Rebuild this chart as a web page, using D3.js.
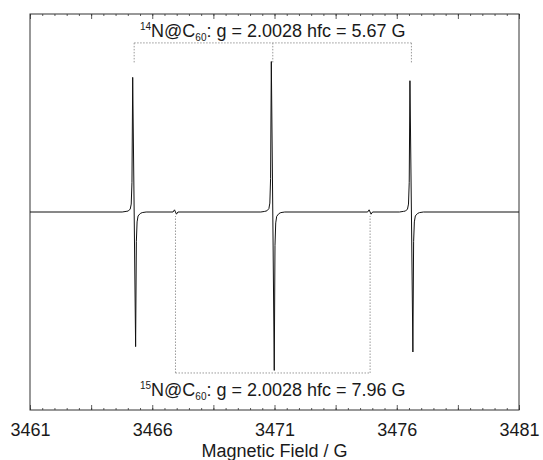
<!DOCTYPE html>
<html>
<head>
<meta charset="utf-8">
<script src="https://cdn.jsdelivr.net/npm/d3@7"></script>
<style>
    body { margin: 0; background: #fff; }
    #chart { width: 543px; height: 460px; }
    text { font-family: "Liberation Sans", Arial, Helvetica, sans-serif; fill: #1a1a1a; }
</style>
</head>
<body>
<div id="chart"></div>
<script>
const spectrumField = [
    3461.00, 3464.77, 3464.93, 3465.02, 3465.10, 3465.14, 3465.17, 3465.20, 3465.26, 3465.32,
    3465.35, 3465.38, 3465.42, 3465.51, 3465.59, 3465.75,
    3466.85, 3466.91, 3466.95, 3466.99, 3467.05,
    3470.44, 3470.60, 3470.69, 3470.77, 3470.81, 3470.84, 3470.87, 3470.93, 3470.99,
    3471.02, 3471.05, 3471.09, 3471.18, 3471.26, 3471.42,
    3474.81, 3474.87, 3474.91, 3474.95, 3475.01,
    3476.11, 3476.27, 3476.36, 3476.44, 3476.48, 3476.51, 3476.54, 3476.60, 3476.66,
    3476.69, 3476.72, 3476.76, 3476.85, 3476.93, 3477.09, 3481.00
];
const spectrumSignal = [
    0, 0, 0.003, 0.005, 0.015, 0.04, 0.15, 0.68, 0, -0.68,
    -0.15, -0.05, -0.02, -0.0075, -0.003, 0,
    0, 0.011, 0, -0.011, 0,
    0, 0.003, 0.006, 0.017, 0.045, 0.17, 0.76, 0, -0.80,
    -0.17, -0.055, -0.022, -0.008, -0.003, 0,
    0, 0.011, 0, -0.011, 0,
    0, 0.003, 0.005, 0.015, 0.04, 0.15, 0.663, 0, -0.707,
    -0.15, -0.05, -0.02, -0.0075, -0.003, 0, 0
];

//Posiciones de las líneas 14N y 15N
const lines14N = [3465.26, 3470.93, 3476.60];
const lines15N = [3466.95, 3474.91];

//Ejes
const xDomain = [3461, 3481];
const majorTicks = [3461, 3466, 3471, 3476, 3481];
const midTicks = [3463.5, 3468.5, 3473.5, 3478.5];
const xLabel = 'Magnetic Field / G';

//Textos de las anotaciones
const label14N = { iso: '14', sub: '60', rest: ': g = 2.0028 hfc = 5.67 G' };
const label15N = { iso: '15', sub: '60', rest: ': g = 2.0028 hfc = 7.96 G' };

let margin = {top: 14, right: 24, bottom: 50, left: 30},
    width = 543 - margin.left - margin.right,
    height = 460 - margin.top - margin.bottom;

let svg = d3.select('#chart')
    .append('svg')
        .attr('width', width + margin.left + margin.right)
        .attr('height', height + margin.top + margin.bottom)
    .append('g')
        .attr('transform', 'translate(' + margin.left + ',' + margin.top + ')');

let x = d3.scaleLinear().domain(xDomain).range([0, width]);
let y = d3.scaleLinear().domain([-1, 1]).range([height, 0]);

//Marco
svg.append('rect')
    .attr('width', width)
    .attr('height', height)
    .attr('fill', 'none')
    .attr('stroke', '#333')
    .attr('stroke-width', 1);

//Ticks menores (abajo y arriba)
function tickAxes(values, size, cls) {
    svg.append('g')
        .attr('class', cls)
        .attr('transform', 'translate(0,' + height + ')')
        .call(d3.axisBottom(x).tickValues(values).tickSize(-size).tickFormat(''));
    svg.append('g')
        .attr('class', cls)
        .call(d3.axisTop(x).tickValues(values).tickSize(-size).tickFormat(''));
}
tickAxes(x.ticks(40), 2, 'minor');
tickAxes(midTicks, 5, 'mid');

//Eje principal con etiquetas
let xAxis = svg.append('g')
    .attr('transform', 'translate(0,' + height + ')')
    .call(d3.axisBottom(x).tickValues(majorTicks).tickSize(-5).tickPadding(13).tickFormat(d3.format('d')));
xAxis.selectAll('text').attr('font-size', 18).style('fill', '#1a1a1a');
svg.append('g')
    .call(d3.axisTop(x).tickValues(majorTicks).tickSize(-5).tickFormat(''));

svg.selectAll('.domain').remove();
svg.selectAll('.tick line').attr('stroke', '#333').attr('stroke-width', 0.8);

svg.append('text')
    .attr('x', width / 2)
    .attr('y', height + 47)
    .attr('text-anchor', 'middle')
    .attr('font-size', 18)
    .text(xLabel);

//Corchetes punteados
function bracket(positions, yBar, yEnd) {
    let g = svg.append('g')
        .attr('fill', 'none')
        .attr('stroke', '#999')
        .attr('stroke-width', 1)
        .attr('stroke-dasharray', '1.5,1.5');
    g.append('line')
        .attr('x1', x(d3.min(positions))).attr('x2', x(d3.max(positions)))
        .attr('y1', y(yBar)).attr('y2', y(yBar));
    g.selectAll('.v')
        .data(positions)
        .enter()
        .append('line')
        .attr('x1', function(d) { return x(d); })
        .attr('x2', function(d) { return x(d); })
        .attr('y1', y(yBar))
        .attr('y2', y(yEnd));
}
bracket(lines14N, 0.854, 0.75);
bracket(lines15N, -0.813, -0.02);

//Etiquetas con superíndice y subíndice
function isoLabel(lab, yPos) {
    let t = svg.append('text')
        .attr('x', x(lines14N[1]))
        .attr('y', yPos)
        .attr('text-anchor', 'middle')
        .attr('font-size', 18);
    t.append('tspan').attr('font-size', 10).attr('dy', -7).text(lab.iso);
    t.append('tspan').attr('dy', 7).text('N@C');
    t.append('tspan').attr('font-size', 10).attr('dy', 4).text(lab.sub);
    t.append('tspan').attr('dy', -4).text(lab.rest);
}
isoLabel(label14N, 37 - margin.top);
isoLabel(label15N, 396 - margin.top);

//Espectro
let spectrum = spectrumField.map(function(f, i) { return [f, spectrumSignal[i]]; });

svg.append('path')
    .datum(spectrum)
    .attr('fill', 'none')
    .attr('stroke', '#111')
    .attr('stroke-width', 1)
    .attr('d', d3.line()
        .x(function(d) { return x(d[0]); })
        .y(function(d) { return y(d[1]); }));
</script>
</body>
</html>
